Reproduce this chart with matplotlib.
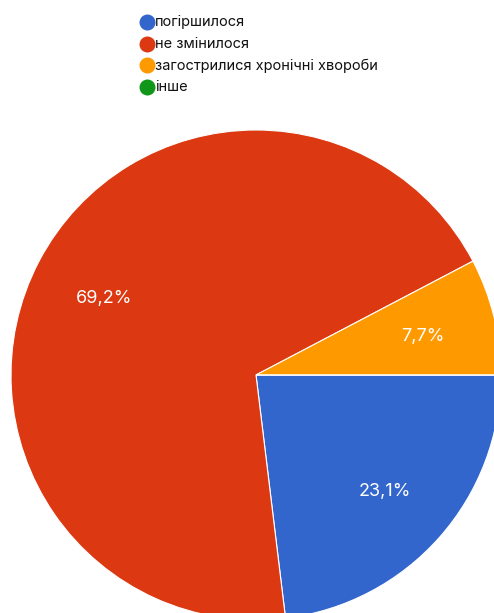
import matplotlib.pyplot as plt

# survey answers (share of responses)
labels = ['погіршилося', 'не змінилося', 'загострилися хронічні хвороби', 'інше']
values = [3, 9, 1, 0]
colors = ['#3366CC', '#DC3912', '#FF9900', '#109618']

plt.rcParams['font.family'] = ['Inter', 'DejaVu Sans']

fig = plt.figure(figsize=(4.94, 6.13), dpi=100)
ax = fig.add_axes([0, 0, 1, 1])


def pct_label(p):
    if p < 0.5:
        return ''
    return f'{p:.1f}%'.replace('.', ',')


wedges, texts, autotexts = ax.pie(
    values, colors=colors, startangle=0, counterclock=False,
    center=(256, 238), radius=245, autopct=pct_label, pctdistance=0.7,
    wedgeprops=dict(edgecolor='white', linewidth=0.8), frame=True)
for t in autotexts:
    t.set_color('white')
    t.set_fontsize(13)
    t.set_y(t.get_position()[1] - 3)  # labels sit a bit lower in the original

ax.set_xlim(0, 494)
ax.set_ylim(0, 613)
ax.set_aspect('equal')
ax.axis('off')

# legend drawn by hand at the top
y0 = 613 - 22
for i, (lab, col) in enumerate(zip(labels, colors)):
    y = y0 - i * 21.7
    ax.plot(147, y, 'o', color=col, markersize=10.5, clip_on=False)
    ax.text(155, y, lab, va='center', ha='left', fontsize=10.5, color='#111111')

fig.savefig('out.png', dpi=100)
